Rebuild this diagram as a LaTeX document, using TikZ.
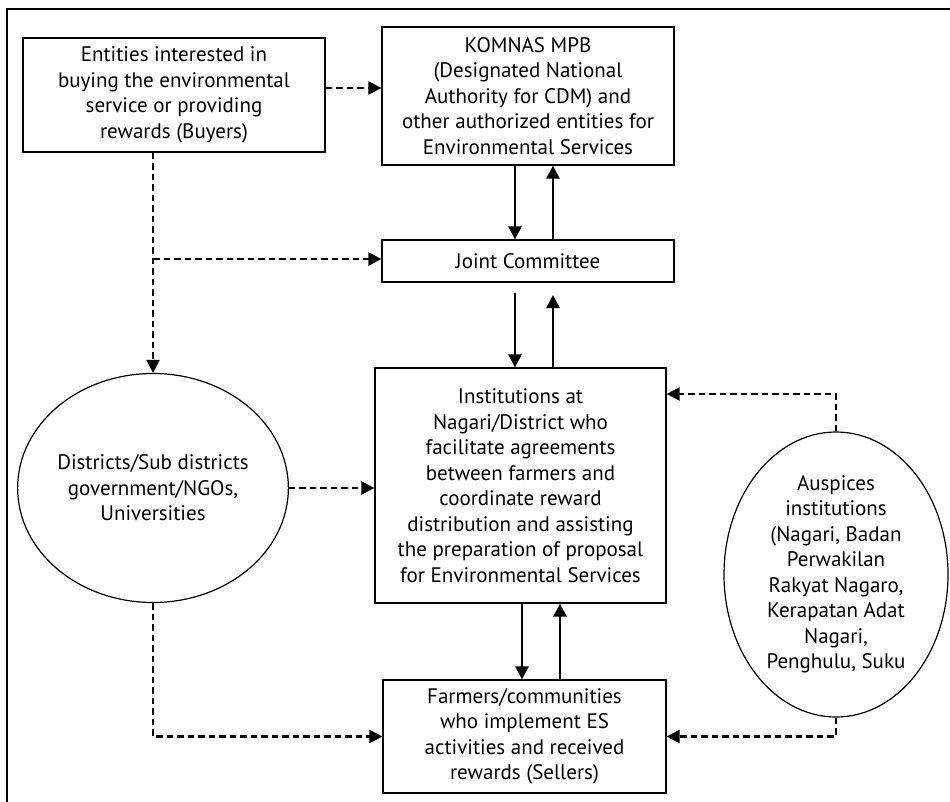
\documentclass[tikz,border=0pt]{standalone}
\usepackage{fontspec}
\setmainfont{PT Sans}
\usetikzlibrary{arrows.meta,shapes.geometric}
\begin{document}
\begin{tikzpicture}[x=1pt,y=-1pt,
  lbl/.style={align=center,font=\fontsize{21}{25.5}\selectfont},
  box/.style={lbl,draw,line width=1.2pt,rectangle,inner sep=0pt},
  oval/.style={lbl,draw,line width=1.2pt,ellipse,inner sep=0pt},
  tip/.style={-{Triangle[length=13pt,width=13pt]}},
  dasharrow/.style={tip,line width=2.2pt,dash pattern=on 6.5pt off 4pt},
  solidarrow/.style={tip,line width=2.4pt},
]
\useasboundingbox (0,0) rectangle (950,802);
\draw[line width=1.2pt] (7,802) -- (7,9) -- (950,9);

\node[box,minimum width=302pt,minimum height=114pt] (buyers) at (174,95)
  {Entities interested in\\buying the environmental\\service or providing\\rewards (Buyers)};
\node[box,minimum width=292pt,minimum height=138pt] (komnas) at (528,96)
  {KOMNAS MPB\\(Designated National\\Authority for CDM) and\\other authorized entities for\\Environmental Services};
\node[box,minimum width=292pt,minimum height=42pt] (jc) at (528,261)
  {Joint Committee};
\node[box,minimum width=291pt,minimum height=235pt] (inst) at (520.5,485.5)
  {Institutions at\\Nagari/District who\\facilitate agreements\\between farmers and\\coordinate reward\\distribution and assisting\\the preparation of proposal\\for Environmental Services};
\node[box,minimum width=283pt,minimum height=113pt] (farmers) at (524.5,736.5)
  {Farmers/communities\\who implement ES\\activities and received\\rewards (Sellers)};
\node[oval,minimum width=253pt,minimum height=229pt] (districts) at (153,488)
  {Districts/Sub districts\\government/NGOs,\\Universities};
\node[oval,minimum width=224pt,minimum height=285pt] (ausp) at (836,574.5)
  {Auspices\\institutions\\(Nagari, Badan\\Perwakilan\\Rakyat Nagaro,\\Kerapatan Adat\\Nagari,\\Penghulu, Suku};

\coordinate (y88) at (0,88);
\coordinate (b1) at (153,259);
\coordinate (a1) at (836,394);
\coordinate (xa) at (515,0);
\coordinate (xb) at (553,0);
\coordinate (xc) at (522,0);
\coordinate (xd) at (560,0);
\coordinate (ya) at (0,293);
\coordinate (yb) at (0,295);

\draw[dasharrow] (buyers.east |- y88) -- (komnas.west |- y88);
\draw[dasharrow] (buyers.south -| districts.north) -- (districts.north);
\draw[dasharrow] (b1) -- (jc.west |- b1);
\draw[dasharrow] (districts.east) -- (inst.west |- districts.east);
\draw[dasharrow] (districts.south) |- (farmers.west);
\draw[dasharrow] (ausp.north) -- (a1) -- (inst.east |- a1);
\draw[dasharrow] (ausp.south) |- (farmers.east);

\draw[solidarrow] (komnas.south -| xa) -- (jc.north -| xa);
\draw[solidarrow] (jc.north -| xb) -- (komnas.south -| xb);
\draw[solidarrow] (xa |- ya) -- (inst.north -| xa);
\draw[solidarrow] (inst.north -| xb) -- (xb |- yb);
\draw[solidarrow] (inst.south -| xc) -- (farmers.north -| xc);
\draw[solidarrow] (farmers.north -| xd) -- (inst.south -| xd);
\end{tikzpicture}
\end{document}
